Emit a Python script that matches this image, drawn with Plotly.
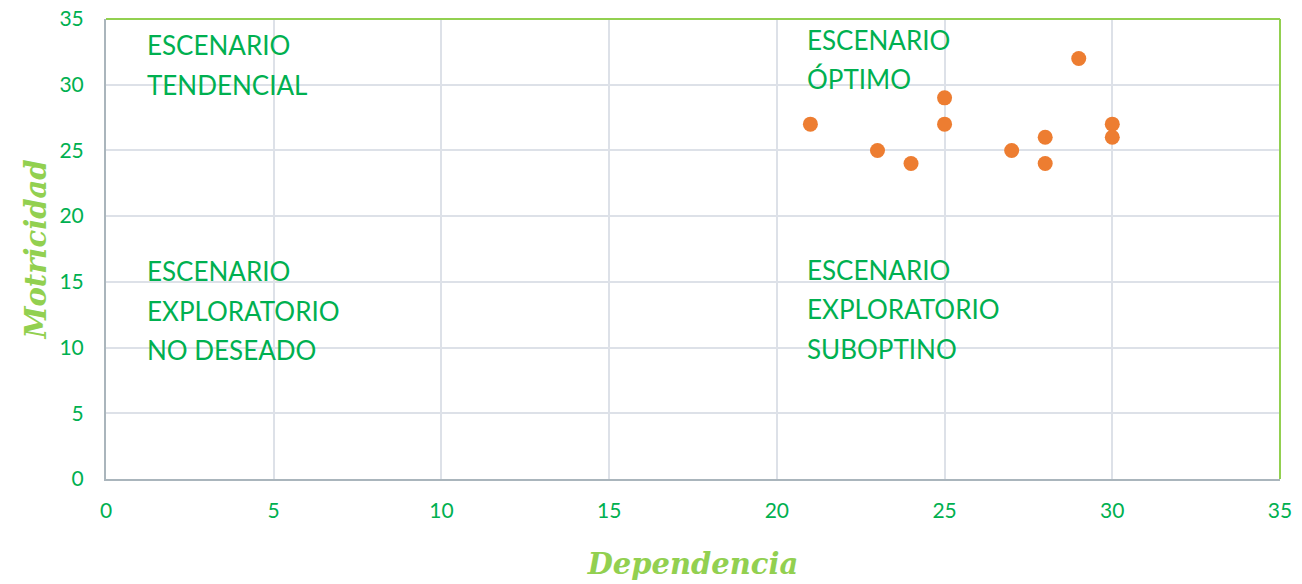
import plotly.graph_objects as go

dependencia = [21, 23, 24, 25, 25, 27, 28, 28, 29, 30, 30]
motricidad = [27, 25, 24, 29, 27, 25, 26, 24, 32, 27, 26]

x_ticks = [0, 5, 10, 15, 20, 25, 30, 35]
y_ticks = [0, 5, 10, 15, 20, 25, 30, 35]

label_lines = [
    ("ESCENARIO", 1.15, 33.0),
    ("TENDENCIAL", 1.15, 30.0),
    ("ESCENARIO", 20.85, 33.4),
    ("ÓPTIMO", 20.85, 30.4),
    ("ESCENARIO", 1.15, 15.8),
    ("EXPLORATORIO", 1.15, 12.8),
    ("NO DESEADO", 1.15, 9.8),
    ("ESCENARIO", 20.85, 15.9),
    ("EXPLORATORIO", 20.85, 12.9),
    ("SUBOPTINO", 20.85, 9.9),
]

GREEN = "#00B050"
LIGHT_GREEN = "#92D050"
ORANGE = "#ED7D31"

fig = go.Figure()
fig.add_trace(go.Scatter(
    x=dependencia, y=motricidad, mode="markers",
    marker=dict(color=ORANGE, size=15, line=dict(width=0)),
    showlegend=False, hoverinfo="x+y",
))

for text, xx, yy in label_lines:
    fig.add_annotation(x=xx, y=yy, text=text, showarrow=False,
                       xanchor="left", yanchor="middle",
                       font=dict(family="Lato", size=26, color=GREEN))

fig.update_layout(
    width=1302, height=584,
    margin=dict(l=106, r=22, t=19, b=105, autoexpand=False),
    plot_bgcolor="white", paper_bgcolor="white",
    font=dict(family="Lato", color=GREEN),
    xaxis=dict(
        range=[0, 35], tickvals=x_ticks, ticks="",
        tickfont=dict(size=21, color=GREEN), ticklabelstandoff=12,
        ticklabeloverflow="allow",
        showgrid=True, gridcolor="#DDE1E8", gridwidth=2,
        showline=True, linecolor="#AAB5BC", linewidth=2,
        zeroline=False, automargin=False,
        title=dict(text="<b><i>Dependencia</i></b>", standoff=32,
                   font=dict(family="DejaVu Serif", size=29, color=LIGHT_GREEN)),
    ),
    yaxis=dict(
        range=[0, 35], tickvals=y_ticks, ticks="",
        tickfont=dict(size=21, color=GREEN), ticklabelstandoff=16,
        ticklabeloverflow="allow",
        showgrid=True, gridcolor="#DDE1E8", gridwidth=2,
        showline=True, linecolor="#AAB5BC", linewidth=2,
        zeroline=False, automargin=False,
        title=dict(text="<b><i>Motricidad</i></b>", standoff=4,
                   font=dict(family="DejaVu Serif", size=29, color=LIGHT_GREEN)),
    ),
    shapes=[
        dict(type="line", xref="paper", yref="paper", x0=0, x1=1, y0=1, y1=1,
             line=dict(color=LIGHT_GREEN, width=2)),
        dict(type="line", xref="paper", yref="paper", x0=1, x1=1, y0=0, y1=1,
             line=dict(color=LIGHT_GREEN, width=2)),
    ],
)

fig.write_html("out.html",
               config={"displayModeBar": False},
               post_script="document.body.style.margin='0';document.body.style.overflow='hidden';")
